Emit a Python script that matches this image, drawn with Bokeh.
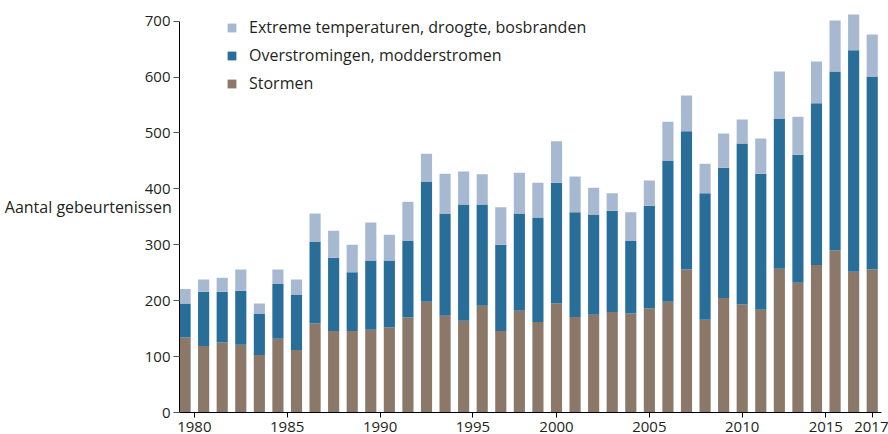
from bokeh.plotting import figure
from bokeh.models import ColumnDataSource, FixedTicker, Legend, LegendItem
from bokeh.embed import file_html
from bokeh.resources import INLINE

# ---- data ----
years = list(range(1980, 2018))
stormen = [134, 119, 125, 121, 103, 132, 112, 159, 146, 146,
           148, 152, 170, 198, 173, 164, 191, 146, 182, 162,
           195, 171, 175, 180, 177, 186, 198, 256, 166, 205,
           193, 184, 257, 232, 264, 290, 252, 256]
overstromingen = [61, 97, 91, 97, 74, 98, 99, 147, 131, 105,
                  124, 120, 137, 215, 183, 208, 181, 154, 174, 187,
                  216, 187, 179, 181, 130, 184, 253, 247, 226, 233,
                  288, 243, 269, 229, 289, 320, 396, 345]
extreem = [26, 22, 25, 38, 18, 26, 27, 50, 48, 49,
           68, 46, 70, 50, 71, 59, 54, 67, 73, 62,
           74, 64, 48, 31, 51, 45, 69, 64, 53, 61,
           43, 63, 84, 68, 75, 91, 64, 75]

series_keys = ["stormen", "overstromingen", "extreem"]
series_names = {"stormen": "Stormen",
                "overstromingen": "Overstromingen, modderstromen",
                "extreem": "Extreme temperaturen, droogte, bosbranden"}
colors = {"stormen": "#8C7869", "overstromingen": "#286E99", "extreem": "#A7B9D1"}

y_ticks = [0, 100, 200, 300, 400, 500, 600, 700]
x_tick_positions = [1980.5, 1985.5, 1990.5, 1995.5, 2000, 2005, 2010, 2014.5, 2017]
x_tick_labels = ["1980", "1985", "1990", "1995", "2000", "2005", "2010", "2015", "2017"]
y_title = "Aantal gebeurtenissen"

FONT = "Open Sans"
TXT = "#231F20"

source = ColumnDataSource(dict(years=years, stormen=stormen,
                               overstromingen=overstromingen, extreem=extreem))

p = figure(width=888, height=434, output_backend="svg", toolbar_location=None,
           x_range=(1979.7, 2017.5), y_range=(0, 737),
           min_border_left=179, min_border_right=7, min_border_top=0,
           min_border_bottom=10, outline_line_color=None)

renderers = p.vbar_stack(series_keys, x="years", width=0.6, source=source,
                         color=[colors[k] for k in series_keys], line_color=None)

p.grid.visible = False
p.background_fill_color = None
p.border_fill_color = "white"

# y axis
ya = p.yaxis[0]
ya.ticker = FixedTicker(ticks=y_ticks)
ya.bounds = (0, 700)
ya.axis_line_color = "black"
ya.major_tick_line_color = "#555555"
ya.major_tick_out = 6
ya.major_tick_in = 0
ya.minor_tick_line_color = None
ya.major_label_text_font = FONT
ya.major_label_text_font_size = "15px"
ya.major_label_text_color = TXT
ya.major_label_standoff = 3
ya.major_label_text_baseline = "bottom"
ya.axis_label = y_title
ya.axis_label_orientation = "horizontal"
ya.axis_label_text_font = FONT
ya.axis_label_text_font_size = "16px"
ya.axis_label_text_font_style = "normal"
ya.axis_label_text_color = TXT
ya.axis_label_standoff = -30

# x axis
xa = p.xaxis[0]
xa.ticker = FixedTicker(ticks=x_tick_positions)
xa.major_label_overrides = {pos: lab for pos, lab in zip(x_tick_positions, x_tick_labels)}
xa.axis_line_color = "black"
xa.major_tick_line_color = "black"
xa.major_tick_out = 5
xa.major_tick_in = 0
xa.minor_tick_line_color = None
xa.major_label_text_font = FONT
xa.major_label_text_font_size = "15px"
xa.major_label_text_color = TXT
xa.major_label_standoff = 4

# legend
items = [LegendItem(label=series_names[k], renderers=[r])
         for k, r in zip(series_keys, renderers)][::-1]
legend = Legend(items=items, location=(47, 318), orientation="vertical",
                glyph_width=11, glyph_height=11, label_height=20, spacing=6,
                label_standoff=12, padding=0, margin=0,
                border_line_color=None, background_fill_alpha=0,
                label_text_font=FONT, label_text_font_size="16px",
                label_text_color=TXT)
p.add_layout(legend, "center")

open("out.html", "w").write(file_html(p, INLINE))
